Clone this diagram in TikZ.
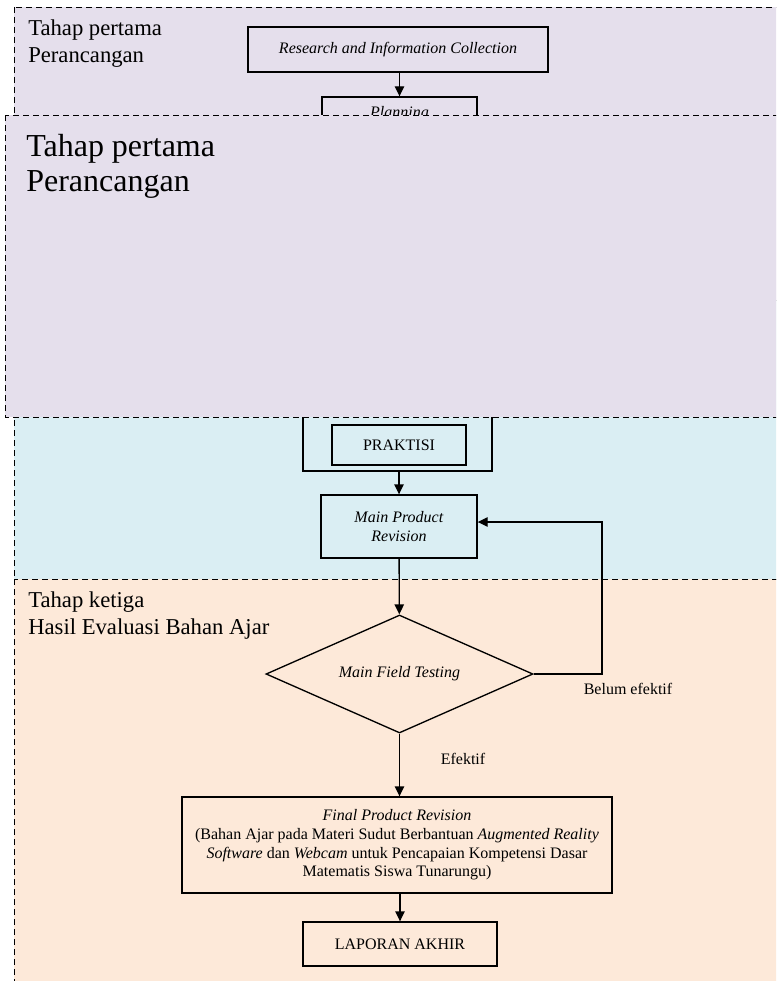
\documentclass[tikz,border=0pt]{standalone}
\usepackage{fontspec}
\setmainfont{Liberation Serif}
\usetikzlibrary{arrows.meta,shapes.geometric}
\definecolor{ungu}{RGB}{229,223,236}
\definecolor{biru}{RGB}{218,238,243}
\definecolor{oranye}{RGB}{253,233,217}
\begin{document}
\begin{tikzpicture}[x=0.75pt,y=-0.75pt,
  tahap/.style={draw,dash pattern=on 4.5pt off 3pt,line width=0.6pt},
  kotak/.style={draw,line width=1pt,inner sep=0pt,align=center,font=\fontsize{12}{14}\selectfont},
  panah/.style={line width=1pt,-{Triangle[length=7.5pt,width=7pt]}},
  judul/.style={anchor=north west,inner sep=0pt,align=left,font=\fontsize{17}{20}\selectfont},
  ket/.style={font=\fontsize{12}{14}\selectfont}]
\useasboundingbox (0,0) rectangle (776,981);
\clip (0,0) rectangle (776,981);
% tahap
\draw[tahap,fill=ungu] (14,7) rectangle (790,300);
\draw[tahap,fill=biru] (14,300) rectangle (790,579);
\draw[tahap,fill=oranye] (14,579) rectangle (790,1000);
\node[judul] (t1) at (28,19.5) {Tahap pertama\\Perancangan};
\node[kotak,minimum width=225pt,minimum height=33.75pt] (ric) at (398,49.5) {\textit{Research and Information Collection}};
\node[kotak,minimum width=116.25pt,minimum height=25.5pt] (plan) at (399.5,114) {\textit{Planning}};
\draw[panah] (plan.north |- ric.south) -- (plan);
\node[draw,line width=1pt,minimum width=141.75pt,minimum height=68.25pt,inner sep=0pt] (panel) at (397.5,425.5) {};
% tahap pertama (lagi)
\draw[tahap,fill=ungu] (5,115) rectangle (790,417);
\node[judul,font=\fontsize{24}{26}\selectfont] (t1b) at (26,134) {Tahap pertama\\Perancangan};
\node[kotak,minimum width=100.5pt,minimum height=30pt] (prak) at (399,445) {PRAKTISI};
\node[kotak,minimum width=117pt,minimum height=47.25pt] (mpr) at (399,526.5) {\textit{Main Product}\\\textit{Revision}};
\draw[panah] (mpr.north |- panel.south) -- (mpr);
% tahap ketiga
\node[judul] (t3) at (28,591.5) {Tahap ketiga\\Hasil Evaluasi Bahan Ajar};
\node[kotak,diamond,aspect=2.4,minimum width=200.25pt,minimum height=88.5pt] (mft) at (399.5,674) {\textit{Main Field Testing}};
\draw[panah] (mpr) -- (mft);
\coordinate (balik) at (602,522);
\draw[panah] (mft.east) -| (balik) -- (mpr.east |- balik);
\node[ket] (belum) at (628,689) {Belum efektif};
\node[ket] (efektif) at (463,759) {Efektif};
\node[kotak,minimum width=322.5pt,minimum height=72pt] (fpr) at (397,845) {\textit{Final Product Revision}\\(Bahan Ajar pada Materi Sudut Berbantuan \textit{Augmented Reality}\\\textit{Software} dan \textit{Webcam} untuk Pencapaian Kompetensi Dasar\\Matematis Siswa Tunarungu)};
\draw[panah] (mft.south) -- (mft.south |- fpr.north);
\node[kotak,minimum width=145.5pt,minimum height=33pt] (lap) at (400,944) {LAPORAN AKHIR};
\draw[panah] (lap.north |- fpr.south) -- (lap);
\end{tikzpicture}
\end{document}
